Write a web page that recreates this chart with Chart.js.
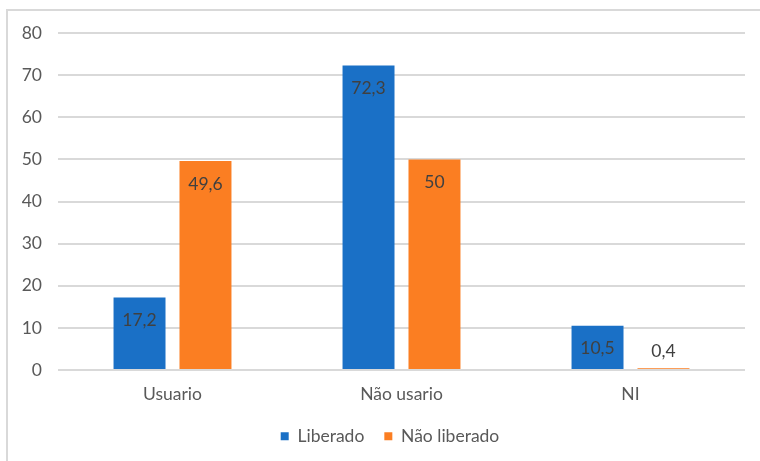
<!DOCTYPE html>
<html>
<head>
<meta charset="utf-8">
<script src="https://cdn.jsdelivr.net/npm/chart.js@4/dist/chart.umd.min.js"></script>
<style>
  html, body { margin: 0; padding: 0; background: #fff; }
  #wrap { position: relative; width: 760px; height: 461px; overflow: hidden; }
  #frame { position: absolute; left: 6px; top: 9px; width: 800px; height: 500px;
           border-top: 2px solid #d9d9d9; border-left: 2px solid #d9d9d9; box-sizing: border-box; }
  canvas { position: absolute; left: 0; top: 0; }
</style>
</head>
<body>
<div id="wrap">
  <div id="frame"></div>
  <canvas id="chart" width="760" height="461"></canvas>
</div>
<script>
// categories, series and axis
const categories   = ['Usuario', 'Não usario', 'NI'];
const liberado     = [17.2, 72.3, 10.5];
const naoLiberado  = [49.6, 50, 0.4];
const seriesNames  = ['Liberado', 'Não liberado'];
const yMin = 0, yMax = 80, yStep = 10;

const FONT = 'Lato, "Open Sans", sans-serif';
const SIZE = 17.5;
const fmt  = v => String(v).replace('.', ',');

// value labels: inside the top of the bar, above it when the bar is too short
const valueLabels = {
  id: 'valueLabels',
  afterDatasetsDraw(chart) {
    const ctx = chart.ctx;
    ctx.save();
    ctx.font = SIZE + 'px ' + FONT;
    ctx.fillStyle = '#404040';
    ctx.textAlign = 'center';
    ctx.textBaseline = 'middle';
    chart.data.datasets.forEach((ds, i) => {
      chart.getDatasetMeta(i).data.forEach((bar, j) => {
        const h = bar.base - bar.y;
        const y = h > 32 ? bar.y + 23 : bar.y - 17;
        ctx.fillText(fmt(ds.data[j]), bar.x, y);
      });
    });
    ctx.restore();
  }
};

// legend sits centred under the whole frame, a bit right of the plot centre
const legendShift = {
  id: 'legendShift',
  afterLayout(chart) {
    chart.legend.left += 35;
  }
};

new Chart(document.getElementById('chart'), {
  type: 'bar',
  data: {
    labels: categories,
    datasets: [
      { label: seriesNames[0], data: liberado,    backgroundColor: '#1a70c6' },
      { label: seriesNames[1], data: naoLiberado, backgroundColor: '#fb7e22' }
    ]
  },
  options: {
    responsive: false,
    animation: false,
    layout: { padding: { left: 0, right: 15, top: 33, bottom: 6 } },
    datasets: { bar: { categoryPercentage: 0.576, barPercentage: 0.788 } },
    plugins: {
      legend: {
        position: 'bottom',
        labels: {
          boxWidth: 8, boxHeight: 8, padding: 20,
          color: '#595959', font: { family: FONT, size: SIZE }
        }
      },
      tooltip: { enabled: false }
    },
    scales: {
      x: {
        afterFit: s => { s.height = 37.5; },
        grid: { display: false, drawTicks: false },
        border: { display: false },
        ticks: { color: '#595959', font: { family: FONT, size: SIZE }, padding: 13.5 }
      },
      y: {
        min: yMin, max: yMax,
        afterFit: s => { s.width = 58; },
        grid: { color: '#d9d9d9', lineWidth: 2, drawTicks: false },
        border: { display: false },
        ticks: { stepSize: yStep, color: '#595959', font: { family: FONT, size: SIZE }, padding: 16 }
      }
    }
  },
  plugins: [valueLabels, legendShift]
});
</script>
</body>
</html>
